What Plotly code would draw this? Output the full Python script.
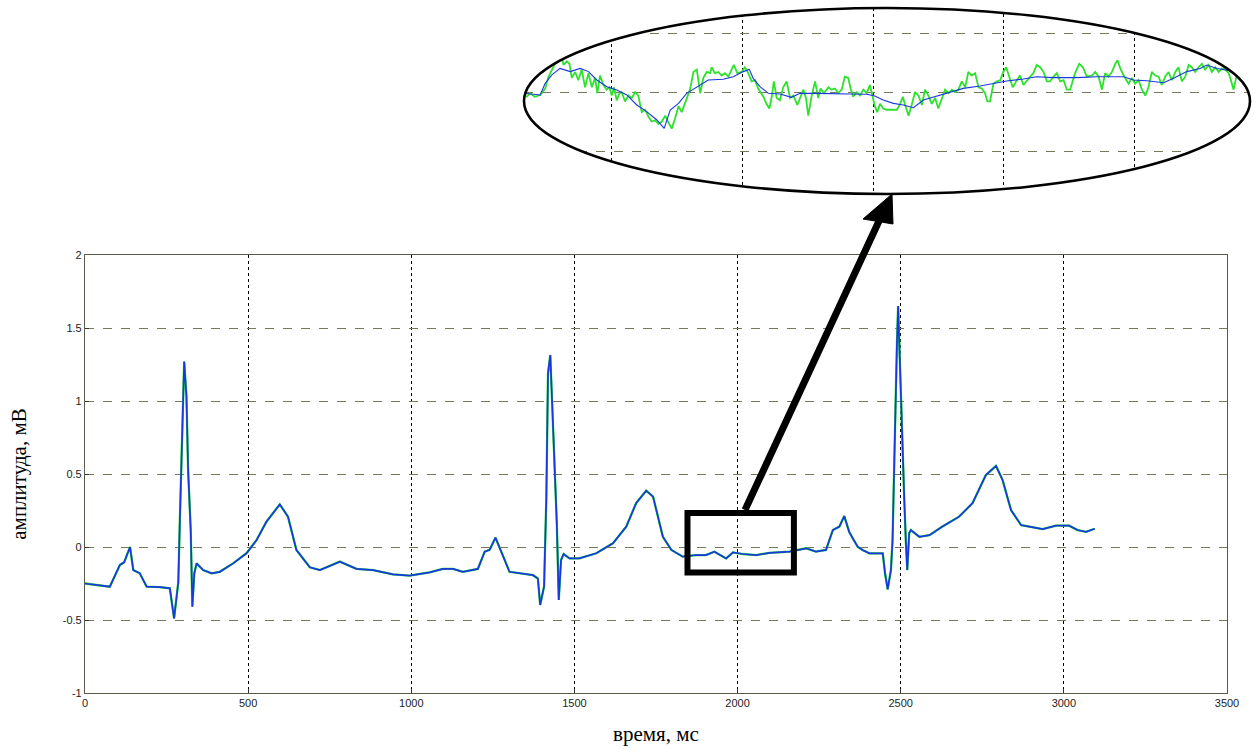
import plotly.graph_objects as go

# ---------------- data: main ECG (time in ms, amplitude in mV) ----------------
t_main = [0, 40, 76, 107, 120, 138, 148, 168, 189, 230, 260, 273, 286, 291, 296, 301, 304, 311, 316,
          324, 329, 335, 342, 362, 388, 413, 454, 495, 526, 556, 597, 622, 648, 689, 720, 781, 832,
          883, 944, 995, 1056, 1097, 1128, 1158, 1204, 1225, 1240, 1258, 1301, 1373, 1388, 1395,
          1407, 1414, 1419, 1426, 1434, 1442, 1446, 1452, 1459, 1467, 1485, 1515, 1567, 1618, 1659,
          1689, 1720, 1741, 1771, 1797, 1832, 1873, 1903, 1929, 1965, 1986, 2016, 2057, 2098, 2159,
          2210, 2240, 2271, 2292, 2312, 2327, 2342, 2353, 2368, 2383, 2404, 2445, 2452, 2460, 2470,
          2475, 2480, 2483, 2488, 2492, 2498, 2504, 2511, 2516, 2520, 2526, 2531, 2557, 2588, 2628,
          2679, 2720, 2761, 2792, 2812, 2838, 2869, 2894, 2935, 2976, 3016, 3042, 3068, 3088, 3095]
ecg_main = [-0.25, -0.26, -0.272, -0.123, -0.105, 0.0, -0.158, -0.18, -0.272, -0.275, -0.283, -0.489,
            -0.24, 0.208, 0.64, 1.098, 1.27, 1.03, 0.527, 0.116, -0.409, -0.18, -0.112, -0.158,
            -0.18, -0.17, -0.112, -0.043, 0.048, 0.173, 0.292, 0.208, -0.021, -0.139, -0.158, -0.10,
            -0.15, -0.158, -0.187, -0.196, -0.174, -0.15, -0.15, -0.17, -0.15, -0.032, -0.02, 0.064,
            -0.17, -0.193, -0.216, -0.397, -0.27, 0.345, 1.19, 1.315, 0.87, 0.5, 0.162, -0.363,
            -0.089, -0.048, -0.078, -0.078, -0.043, 0.025, 0.14, 0.30, 0.386, 0.345, 0.07, -0.02,
            -0.066, -0.055, -0.055, -0.032, -0.078, -0.037, -0.048, -0.055, -0.04, -0.032, -0.009,
            -0.032, -0.02, 0.116, 0.14, 0.212, 0.104, 0.06, 0.002, -0.02, -0.043, -0.043, -0.18,
            -0.29, -0.158, 0.048, 0.596, 1.05, 1.35, 1.65, 1.21, 0.664, 0.32, 0.025, -0.158, 0.094,
            0.116, 0.07, 0.081, 0.14, 0.208, 0.30, 0.493, 0.555, 0.46, 0.253, 0.15, 0.14, 0.123,
            0.146, 0.146, 0.116, 0.104, 0.12, 0.125]

# ---------------- data: magnified fragment (ellipse inset) ----------------
t_zoom_filt = [1866.1, 1872.5, 1874.4, 1876.9, 1880.1, 1884.0, 1887.8, 1891.0, 1894.2, 1898.0, 1901.8,
               1905.7, 1909.5, 1913.3, 1917.2, 1920.0, 1922.3, 1925.5, 1928.6, 1932.5, 1936.9, 1942.6,
               1946.5, 1950.3, 1952.6, 1954.1, 1956.7, 1959.9, 1964.3, 1968.8, 1972.0, 1978.4, 1984.8,
               1991.2, 1997.6, 2000.7, 2003.9, 2007.8, 2011.6, 2015.5, 2019.3, 2024.4, 2029.5, 2034.6,
               2041.0, 2046.1, 2051.2, 2057.6, 2062.7, 2069.1, 2075.5, 2078.1, 2085.7, 2096.0, 2099.8,
               2104.9, 2111.3, 2115.1, 2120.2, 2125.3, 2127.9, 2131.7, 2136.8]
ecg_zoom_filt = [-0.051, -0.0525, -0.0426, -0.0356, -0.030, -0.0327, -0.030, -0.0327, -0.0398, -0.0455,
                 -0.0483, -0.0525, -0.061, -0.0666, -0.0737, -0.0808, -0.0652, -0.0596, -0.0511, -0.0455,
                 -0.0398, -0.0392, -0.037, -0.0327, -0.0308, -0.0384, -0.0455, -0.0511, -0.0517, -0.0545,
                 -0.0511, -0.0511, -0.0517, -0.0517, -0.0519, -0.0534, -0.0568, -0.0596, -0.061, -0.0633,
                 -0.0568, -0.0534, -0.0497, -0.0469, -0.0449, -0.0426, -0.0406, -0.039, -0.037, -0.0378,
                 -0.0378, -0.0378, -0.037, -0.037, -0.0398, -0.0404, -0.0421, -0.0384, -0.0327, -0.030,
                 -0.0271, -0.030, -0.0319]

t_zoom_raw = [1866.1, 1867.4, 1868.6, 1870.5, 1872.5, 1874.4, 1875.7, 1876.9, 1878.2, 1879.5, 1880.4,
              1881.4, 1882.7, 1883.7, 1884.6, 1885.9, 1887.1, 1888.4, 1889.7, 1891.0, 1892.3, 1893.5,
              1894.4, 1895.4, 1896.7, 1898.0, 1899.0, 1899.9, 1900.8, 1901.8, 1902.9, 1903.7, 1905.0,
              1906.3, 1907.6, 1908.9, 1910.1, 1911.4, 1912.7, 1914.0, 1915.2, 1916.5, 1917.8, 1919.1,
              1920.4, 1921.4, 1922.9, 1924.2, 1925.5, 1926.7, 1928.6, 1929.9, 1931.2, 1932.5, 1933.8,
              1935.0, 1936.3, 1937.6, 1938.2, 1939.4, 1940.7, 1942.0, 1943.3, 1944.6, 1945.8, 1946.7,
              1948.0, 1949.7, 1950.9, 1952.2, 1953.5, 1954.8, 1956.0, 1958.0, 1959.2, 1960.3, 1961.2,
              1962.0, 1963.1, 1964.3, 1965.6, 1966.9, 1968.2, 1969.5, 1971.0, 1972.0, 1973.3, 1974.3,
              1975.2, 1976.5, 1977.8, 1979.0, 1979.9, 1981.2, 1982.9, 1984.1, 1985.4, 1986.7, 1988.0,
              1989.2, 1990.5, 1991.4, 1992.4, 1993.7, 1995.0, 1996.3, 1997.6, 1998.8, 1999.8, 2000.7,
              2001.6, 2002.7, 2003.9, 2005.2, 2006.5, 2007.8, 2009.1, 2010.4, 2011.4, 2012.3, 2013.6,
              2014.8, 2016.1, 2017.4, 2018.7, 2019.9, 2021.2, 2022.5, 2023.8, 2025.0, 2026.3, 2027.6,
              2028.9, 2030.2, 2031.4, 2032.7, 2034.0, 2035.3, 2036.5, 2037.8, 2039.1, 2040.4, 2041.6,
              2042.9, 2043.8, 2044.8, 2046.1, 2047.4, 2048.7, 2049.9, 2051.0, 2052.3, 2053.5, 2054.8,
              2056.3, 2057.6, 2058.9, 2060.2, 2061.4, 2062.7, 2064.0, 2065.3, 2066.6, 2067.8, 2069.1,
              2070.4, 2071.7, 2073.0, 2074.2, 2075.5, 2077.4, 2079.0, 2080.4, 2081.9, 2083.8, 2085.1,
              2086.4, 2087.7, 2088.9, 2090.2, 2091.5, 2092.8, 2093.7, 2094.7, 2096.0, 2097.0, 2097.9,
              2099.2, 2100.4, 2101.7, 2103.0, 2104.3, 2105.5, 2106.8, 2108.1, 2109.4, 2110.6, 2111.9,
              2113.2, 2114.5, 2115.8, 2117.0, 2118.3, 2119.6, 2120.9, 2122.1, 2123.4, 2124.7, 2126.0,
              2127.2, 2128.5, 2129.8, 2131.1, 2132.4, 2133.6, 2134.9, 2136.2, 2137.1, 2138.1, 2139.1,
              2140.0]
ecg_zoom_raw = [-0.0525, -0.054, -0.051, -0.054, -0.0525, -0.047, -0.037, -0.031, -0.026, -0.017, -0.016,
                -0.027, -0.024, -0.026, -0.038, -0.033, -0.040, -0.031, -0.046, -0.034, -0.046, -0.038,
                -0.051, -0.036, -0.044, -0.048, -0.046, -0.053, -0.046, -0.057, -0.051, -0.050, -0.058,
                -0.053, -0.055, -0.050, -0.053, -0.067, -0.065, -0.071, -0.075, -0.074, -0.077, -0.075,
                -0.070, -0.075, -0.081, -0.072, -0.062, -0.067, -0.055, -0.048, -0.033, -0.031, -0.051,
                -0.038, -0.033, -0.034, -0.029, -0.034, -0.033, -0.036, -0.034, -0.037, -0.031, -0.027,
                -0.034, -0.033, -0.029, -0.034, -0.041, -0.040, -0.047, -0.054, -0.060, -0.064, -0.054,
                -0.041, -0.055, -0.057, -0.046, -0.041, -0.055, -0.053, -0.061, -0.055, -0.048, -0.055,
                -0.070, -0.053, -0.041, -0.055, -0.047, -0.051, -0.046, -0.048, -0.047, -0.051, -0.048,
                -0.037, -0.038, -0.047, -0.054, -0.050, -0.053, -0.048, -0.051, -0.044, -0.055, -0.062,
                -0.067, -0.060, -0.064, -0.065, -0.065, -0.065, -0.065, -0.060, -0.054, -0.061, -0.070,
                -0.061, -0.050, -0.053, -0.061, -0.048, -0.053, -0.060, -0.055, -0.064, -0.055, -0.048,
                -0.051, -0.048, -0.050, -0.048, -0.041, -0.046, -0.033, -0.036, -0.034, -0.046, -0.047,
                -0.051, -0.058, -0.058, -0.043, -0.041, -0.040, -0.033, -0.029, -0.037, -0.046, -0.041,
                -0.036, -0.044, -0.040, -0.037, -0.034, -0.027, -0.029, -0.033, -0.041, -0.041, -0.037,
                -0.034, -0.041, -0.040, -0.048, -0.048, -0.034, -0.026, -0.029, -0.037, -0.036, -0.033,
                -0.037, -0.048, -0.034, -0.037, -0.033, -0.026, -0.023, -0.030, -0.036, -0.040, -0.043,
                -0.038, -0.043, -0.040, -0.048, -0.053, -0.046, -0.033, -0.036, -0.037, -0.044, -0.037,
                -0.033, -0.040, -0.033, -0.029, -0.041, -0.037, -0.027, -0.029, -0.033, -0.029, -0.026,
                -0.031, -0.027, -0.033, -0.029, -0.033, -0.030, -0.031, -0.034, -0.040, -0.048, -0.038,
                -0.037]

# highlighted window on the main chart (ms, mV)
box_t = [1846.5, 2172.6]
box_v = [-0.175, 0.233]

x_ticks = [0, 500, 1000, 1500, 2000, 2500, 3000, 3500]
y_ticks = [-1, -0.5, 0, 0.5, 1, 1.5, 2]
x_title = "время, мс"
y_title = "амплитуда, мВ"

# ---------------- layout helpers ----------------
W, H = 1254, 749
def px(x):
    return x / W
def py(y):
    return 1 - y / H

BLUE = "rgb(25,55,225)"
GREEN = "rgb(45,225,45)"
YGRID = "#77775a"

fig = go.Figure()
fig.add_trace(go.Scatter(x=t_main, y=ecg_main, mode="lines", line=dict(color=GREEN, width=2.3),
                         xaxis="x", yaxis="y", showlegend=False, hoverinfo="skip"))
fig.add_trace(go.Scatter(x=t_main, y=ecg_main, mode="lines", line=dict(color=BLUE, width=1.7),
                         xaxis="x", yaxis="y", showlegend=False))
fig.add_trace(go.Scatter(x=t_zoom_raw, y=ecg_zoom_raw, mode="lines", line=dict(color=GREEN, width=1.8),
                         xaxis="x2", yaxis="y2", showlegend=False))
fig.add_trace(go.Scatter(x=t_zoom_filt, y=ecg_zoom_filt, mode="lines", line=dict(color=BLUE, width=1.1),
                         xaxis="x2", yaxis="y2", showlegend=False))

tickfont = dict(family="Liberation Sans Narrow, Liberation Sans, Arial", size=11, color="#222")
titlefont = dict(family="Liberation Serif, Times New Roman, serif", size=21, color="#000")

fig.update_layout(
    width=W, height=H, margin=dict(l=0, r=0, t=0, b=0),
    paper_bgcolor="white", plot_bgcolor="white",
    xaxis=dict(domain=[px(85), px(1227)], range=[0, 3500], tickvals=x_ticks,
               ticktext=[str(v) for v in x_ticks], showgrid=True, gridcolor="black", griddash="dot",
               gridwidth=1.2, zeroline=False, showline=True, linecolor="#5a5a4a", linewidth=1.2,
               mirror=True, ticks="inside", ticklen=4, tickcolor="#333", tickfont=tickfont,
               title=dict(text=x_title, font=titlefont, standoff=18), automargin=False, anchor="y"),
    yaxis=dict(domain=[py(693), py(255)], range=[-1, 2], tickvals=y_ticks,
               ticktext=["-1", "-0.5", "0", "0.5", "1", "1.5", "2"], showgrid=True, gridcolor=YGRID,
               griddash="dash", gridwidth=1.1, zeroline=False, showline=True, linecolor="#5a5a4a",
               linewidth=1.2, mirror=True, ticks="inside", ticklen=4, tickcolor="#333",
               tickfont=tickfont, title=dict(text=y_title, font=titlefont, standoff=30),
               automargin=False, anchor="x"),
    xaxis2=dict(domain=[px(524), px(1250)], range=[1866.3, 2144.4], dtick=50, tick0=0,
                showgrid=True, gridcolor="black", griddash="dot", gridwidth=1.2, zeroline=False,
                showline=False, showticklabels=False, ticks="", anchor="y2", automargin=False),
    yaxis2=dict(domain=[py(194), py(8)], range=[-0.1364, 0.0212], dtick=0.05, tick0=0,
                showgrid=True, gridcolor=YGRID, griddash="dash", gridwidth=1.1, zeroline=False,
                showline=False, showticklabels=False, ticks="", anchor="x2", automargin=False),
)

# ellipse geometry (pixels -> paper)
cx, cy, rx, ry = px(887), py(101), 363 / W, 93 / H
k = 0.5523
ell = (f"M {cx+rx},{cy} C {cx+rx},{cy+k*ry} {cx+k*rx},{cy+ry} {cx},{cy+ry} "
       f"C {cx-k*rx},{cy+ry} {cx-rx},{cy+k*ry} {cx-rx},{cy} "
       f"C {cx-rx},{cy-k*ry} {cx-k*rx},{cy-ry} {cx},{cy-ry} "
       f"C {cx+k*rx},{cy-ry} {cx+rx},{cy-k*ry} {cx+rx},{cy} Z")
mask = (f"M {px(505)},{py(0)} L {px(1254)},{py(0)} L {px(1254)},{py(215)} L {px(505)},{py(215)} Z " + ell)

shapes = [
    dict(type="path", xref="paper", yref="paper", path=mask, fillcolor="white", fillrule="evenodd",
         line=dict(width=0), layer="above"),
    dict(type="path", xref="paper", yref="paper", path=ell, line=dict(color="black", width=2.6),
         fillcolor="rgba(0,0,0,0)", layer="above"),
    dict(type="rect", xref="x", yref="y", x0=box_t[0], x1=box_t[1], y0=box_v[0], y1=box_v[1],
         line=dict(color="black", width=6), layer="above"),
    dict(type="line", xref="paper", yref="paper", x0=px(745), y0=py(510), x1=px(879), y1=py(221),
         line=dict(color="black", width=7), layer="above"),
    dict(type="path", xref="paper", yref="paper",
         path=f"M {px(892)},{py(194)} L {px(863)},{py(219)} L {px(893)},{py(224)} Z",
         fillcolor="black", line=dict(color="black", width=1), layer="above"),
]
fig.update_layout(shapes=shapes)

fig.write_html("out.html", config={"displayModeBar": False},
               post_script="document.body.style.margin='0';document.body.style.overflow='hidden';")
